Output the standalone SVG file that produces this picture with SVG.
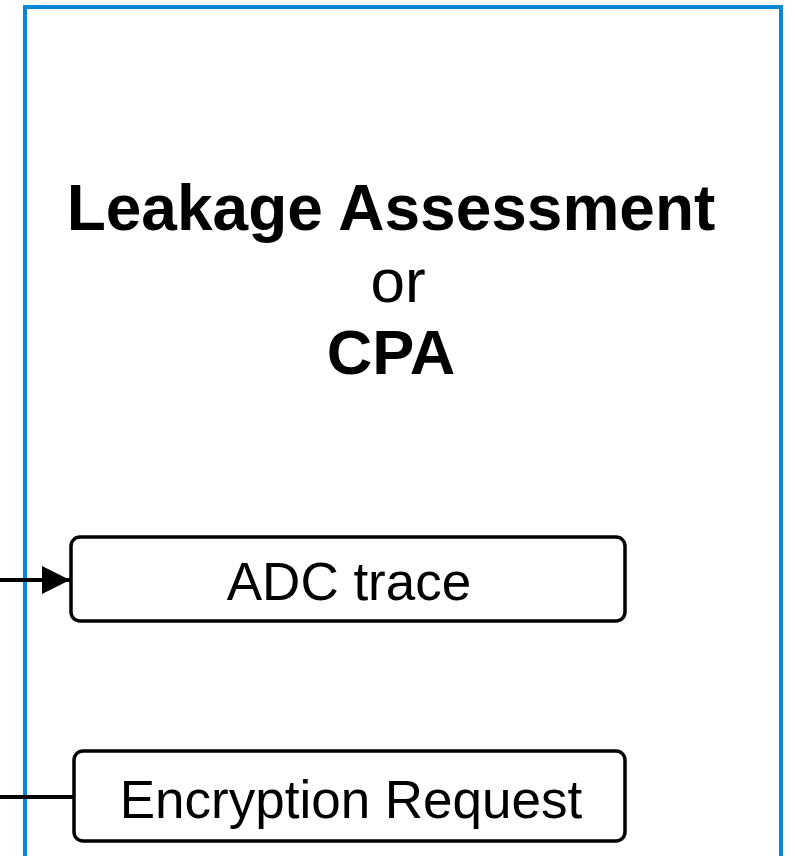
<svg xmlns="http://www.w3.org/2000/svg" width="795" height="856" viewBox="0 0 795 856">
<defs>
<style>
.frame{fill:none;stroke:#0A86D6;stroke-width:4}
.box{fill:#fff;stroke:#000;stroke-width:3.5}
.conn{stroke:#000;stroke-width:4;fill:none}
.t{font-family:"Liberation Sans",Arial,sans-serif;text-anchor:middle;fill:#000}
.b{font-weight:bold}
</style>
<marker id="ah" markerUnits="userSpaceOnUse" markerWidth="28" markerHeight="28" viewBox="0 0 28 28" refX="28" refY="14" orient="auto">
<path d="M0,0 L28,14 L0,28 Z" fill="#000"/>
</marker>
</defs>
<g id="frame">
<rect class="frame" x="25" y="7" width="756" height="870"/>
</g>
<g id="title">
<text class="t b" x="391" y="230" font-size="64">Leakage Assessment</text>
<text class="t" x="398" y="302" font-size="62">or</text>
<text class="t b" x="391" y="374" font-size="63">CPA</text>
</g>
<g id="connectors">
<line class="conn" x1="0" y1="580" x2="70" y2="580" marker-end="url(#ah)"/>
<line class="conn" x1="0" y1="797" x2="74" y2="797"/>
</g>
<g id="adc">
<rect class="box" x="71" y="537" width="554" height="84" rx="9"/>
<text class="t" x="349" y="600" font-size="53">ADC trace</text>
</g>
<g id="enc">
<rect class="box" x="74" y="751" width="551" height="90" rx="9"/>
<text class="t" x="351" y="818" font-size="53">Encryption Request</text>
</g>
</svg>
